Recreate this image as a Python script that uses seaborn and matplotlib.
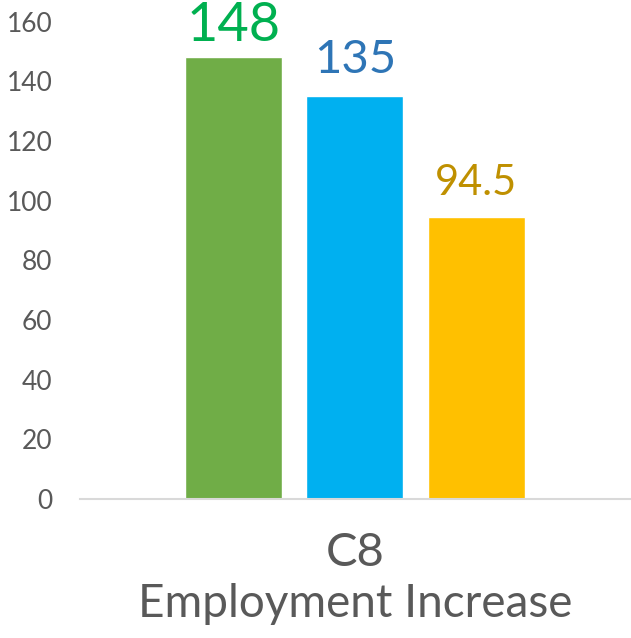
import matplotlib
matplotlib.use("Agg")
import matplotlib.pyplot as plt
import seaborn as sns
import pandas as pd

# data
category = ["C8", "C8", "C8"]
series = ["A", "B", "C"]
values = [148, 135, 94.5]
bar_colors = ["#70AD47", "#00B0F0", "#FFC000"]
label_colors = ["#00B050", "#2E75B6", "#BF9000"]
label_sizes = [39, 34, 30]
label_offsets = [12, 16.5, 16]
label_texts = ["148", "135", "94.5"]
yticks = [0, 20, 40, 60, 80, 100, 120, 140, 160]

df = pd.DataFrame({"cat": category, "series": series, "value": values})

sns.set_style("white")
plt.rcParams['font.family'] = ['Lato', 'DejaVu Sans']

fig = plt.figure(figsize=(6.31, 6.38), dpi=100)
ax = fig.add_axes([0.127, 0.218, 0.871, 0.748])

sns.barplot(data=df, x="cat", y="value", hue="series", palette=bar_colors,
            width=0.662, gap=0.2, legend=False, ax=ax, saturation=1)

# value labels above bars
for bar, txt, col, fs, off in zip(ax.patches, label_texts, label_colors, label_sizes, label_offsets):
    ax.annotate(txt, (bar.get_x() + bar.get_width() / 2, bar.get_height()),
                xytext=(0, off), textcoords="offset points",
                ha="center", va="baseline", color=col, fontsize=fs)

ax.set_ylim(0, 160)
ax.set_xlim(-0.5, 0.5)
ax.set_yticks(yticks)
ax.set_yticklabels([str(t) for t in yticks], fontsize=19, color="#595959")
ax.tick_params(axis="y", length=0, pad=20)
ax.tick_params(axis="x", length=0, pad=24)
ax.set_xticks([0])
ax.set_xticklabels(["C8"], fontsize=34, color="#595959")
ax.set_xlabel("Employment Increase", fontsize=33, color="#595959", labelpad=6)
ax.set_ylabel("")

for s in ["top", "right", "left"]:
    ax.spines[s].set_visible(False)
ax.spines["bottom"].set_color("#D9D9D9")
ax.spines["bottom"].set_linewidth(1.5)

fig.savefig("out.png", dpi=100)
